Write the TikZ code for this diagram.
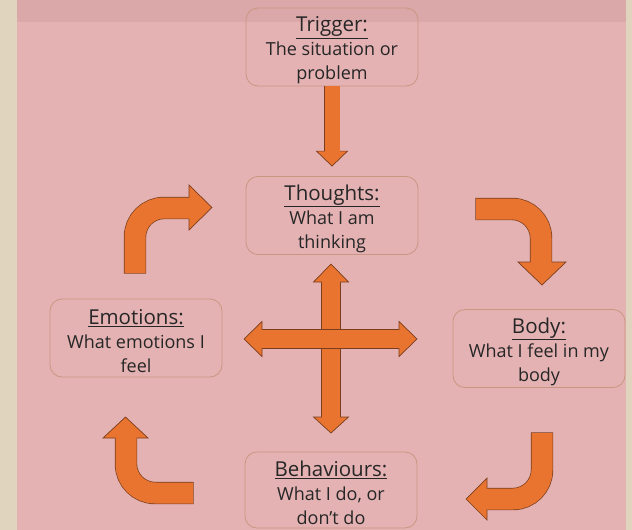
\documentclass[tikz,border=0pt]{standalone}
\usepackage{fontspec}
\setmainfont{Open Sans}
\usetikzlibrary{calc}

\definecolor{beige}{HTML}{E0D4BF}
\definecolor{rose}{HTML}{E4B2B3}
\definecolor{roseband}{HTML}{DBA8AA}
\definecolor{arroworange}{HTML}{E8742F}
\definecolor{arrowedge}{HTML}{7A3E1E}
\definecolor{boxedge}{HTML}{C9977F}
\definecolor{ink}{HTML}{262626}

\tikzset{
  stage/.style={draw=boxedge, line width=0.8pt, rounded corners=12pt,
    minimum width=172pt, minimum height=78pt, align=center, text=ink,
    font=\fontsize{18}{24}\selectfont, inner sep=0pt},
  headtri/.style={fill=arroworange, draw=arrowedge, line width=0.7pt, line join=miter},
}
% underlined heading; the strut gives the first line a little extra headroom
\newcommand{\stagetitle}[1]{{\fontsize{20.5}{24}\selectfont\rule{0pt}{22pt}\underline{#1}}}

% Thick block arrow: #1 shaft width, #2 outline width (shaft width + 1.4pt),
% #3 corner radius, #4 shaft path (tail to head base), #5 head triangle
\newcommand{\fatarrow}[5]{%
  \draw[draw=arrowedge, line width=#2, rounded corners=#3, shorten <=-0.7pt] #4;
  \filldraw[headtri] #5 -- cycle;
  \draw[draw=arroworange, line width=#1, rounded corners=#3, shorten >=-1pt] #4;
}
% Straight shaft with a head at each end
\newcommand{\twowayarrow}[5]{%
  \draw[draw=arrowedge, line width=#2] #3;
  \filldraw[headtri] #4 -- cycle;
  \filldraw[headtri] #5 -- cycle;
  \draw[draw=arroworange, line width=#1, shorten >=-1pt, shorten <=-1pt] #3;
}

\begin{document}
\begin{tikzpicture}[x=1pt, y=-1pt]
  \useasboundingbox (0,0) rectangle (632,530);

  % page, sheet and header band
  \fill[beige] (0,0) rectangle (632,530);
  \fill[rose] (17,0) rectangle (626,530);
  \fill[roseband] (17,0) rectangle (626,22);

  % stages of the cycle
  \node[stage] (trig) at (332,47)
    {\stagetitle{Trigger:}\\The situation or\\problem};
  \node[stage] (thou) at (332,215.5)
    {\stagetitle{Thoughts:}\\What I am\\thinking};
  \node[stage] (emo) at (136,338)
    {\stagetitle{Emotions:}\\What emotions I\\feel};
  \node[stage] (body) at (539,348.5)
    {\stagetitle{Body:}\\What I feel in my\\body};
  \node[stage, minimum height=76pt] (beh) at (331,490)
    {\stagetitle{Behaviours:}\\What I do, or\\don’t do};

  % trigger feeds thoughts
  \fatarrow{15pt}{16.4pt}{0pt}
    {(trig.south) -- ($(thou.north)+(0,-25)$)}
    {($(thou.north)+(-15.5,-25)$) -- ($(thou.north)+(0,-10)$) -- ($(thou.north)+(15.5,-25)$)};

  % cycle arrows
  \fatarrow{21pt}{22.4pt}{29pt}
    {(135,273) -- (135,208) -- (189,208)}
    {(189,185) -- (212,207.5) -- (189,230)};
  \fatarrow{21pt}{22.4pt}{29pt}
    {(476,209) -- (541,209) -- (541,262)}
    {(518,262) -- (542,285) -- (566,262)};
  \fatarrow{21pt}{22.4pt}{29pt}
    {(542,433) -- (542,499) -- (487,499)}
    {(487,478) -- (466,499) -- (487,520)};
  \fatarrow{21pt}{22.4pt}{29pt}
    {(193,493) -- (126,493) -- (126,438)}
    {(103,438) -- (125.5,417) -- (148,438)};

  % central cross linking all four
  \coordinate (hub) at (331,339);
  \twowayarrow{18pt}{19.4pt}
    {($(hub)+(0,-57)$) -- ($(hub)+(0,78)$)}
    {($(hub)+(-17.5,-57)$) -- ($(hub)+(0,-75)$) -- ($(hub)+(17.5,-57)$)}
    {($(hub)+(-17.5,78)$) -- ($(hub)+(0,94)$) -- ($(hub)+(17.5,78)$)};
  \twowayarrow{18pt}{19.4pt}
    {($(hub)+(-69,0)$) -- ($(hub)+(68,0)$)}
    {($(hub)+(-69,-17.5)$) -- ($(hub)+(-87,0)$) -- ($(hub)+(-69,17.5)$)}
    {($(hub)+(68,-17.5)$) -- ($(hub)+(86,0)$) -- ($(hub)+(68,17.5)$)};
\end{tikzpicture}
\end{document}
